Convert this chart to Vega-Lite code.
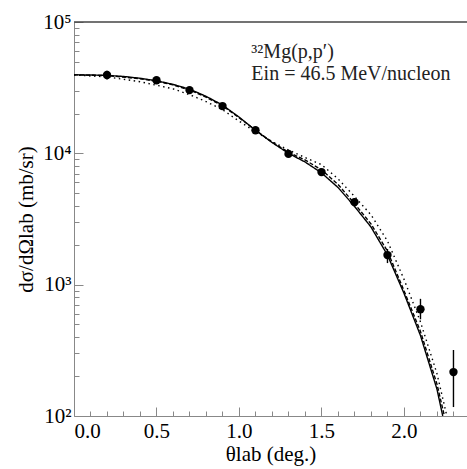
{
  "$schema": "https://vega.github.io/schema/vega-lite/v6.json",
  "width": 393,
  "height": 394,
  "autosize": {"type": "none"},
  "padding": {"left": 74, "top": 22, "right": 0, "bottom": 53},
  "background": "white",
  "view": {"stroke": null},
  "datasets": {
    "curves": [
      {"x": 0.0, "y": 39600, "model": "solid"},
      {"x": 0.1, "y": 39500, "model": "solid"},
      {"x": 0.2, "y": 39200, "model": "solid"},
      {"x": 0.3, "y": 38500, "model": "solid"},
      {"x": 0.4, "y": 37300, "model": "solid"},
      {"x": 0.5, "y": 35700, "model": "solid"},
      {"x": 0.6, "y": 33500, "model": "solid"},
      {"x": 0.7, "y": 30800, "model": "solid"},
      {"x": 0.8, "y": 27200, "model": "solid"},
      {"x": 0.9, "y": 23300, "model": "solid"},
      {"x": 1.0, "y": 18900, "model": "solid"},
      {"x": 1.1, "y": 15000, "model": "solid"},
      {"x": 1.2, "y": 12100, "model": "solid"},
      {"x": 1.3, "y": 10000, "model": "solid"},
      {"x": 1.4, "y": 8600, "model": "solid"},
      {"x": 1.5, "y": 7100, "model": "solid"},
      {"x": 1.6, "y": 5500, "model": "solid"},
      {"x": 1.7, "y": 3950, "model": "solid"},
      {"x": 1.8, "y": 2750, "model": "solid"},
      {"x": 1.9, "y": 1680, "model": "solid"},
      {"x": 2.0, "y": 860, "model": "solid"},
      {"x": 2.1, "y": 410, "model": "solid"},
      {"x": 2.2, "y": 160, "model": "solid"},
      {"x": 2.235, "y": 100, "model": "solid"},
      {"x": 0.0, "y": 39600, "model": "dashed"},
      {"x": 0.2, "y": 39100, "model": "dashed"},
      {"x": 0.4, "y": 37000, "model": "dashed"},
      {"x": 0.5, "y": 35400, "model": "dashed"},
      {"x": 0.6, "y": 33200, "model": "dashed"},
      {"x": 0.7, "y": 30400, "model": "dashed"},
      {"x": 0.8, "y": 26800, "model": "dashed"},
      {"x": 0.9, "y": 23000, "model": "dashed"},
      {"x": 1.0, "y": 18700, "model": "dashed"},
      {"x": 1.1, "y": 15000, "model": "dashed"},
      {"x": 1.2, "y": 12200, "model": "dashed"},
      {"x": 1.3, "y": 10200, "model": "dashed"},
      {"x": 1.4, "y": 8900, "model": "dashed"},
      {"x": 1.5, "y": 7500, "model": "dashed"},
      {"x": 1.6, "y": 5800, "model": "dashed"},
      {"x": 1.7, "y": 4150, "model": "dashed"},
      {"x": 1.8, "y": 2900, "model": "dashed"},
      {"x": 1.9, "y": 1800, "model": "dashed"},
      {"x": 2.0, "y": 900, "model": "dashed"},
      {"x": 2.1, "y": 440, "model": "dashed"},
      {"x": 2.2, "y": 175, "model": "dashed"},
      {"x": 2.245, "y": 100, "model": "dashed"},
      {"x": 0.0, "y": 39500, "model": "dotted"},
      {"x": 0.2, "y": 38200, "model": "dotted"},
      {"x": 0.4, "y": 35100, "model": "dotted"},
      {"x": 0.6, "y": 31000, "model": "dotted"},
      {"x": 0.7, "y": 28000, "model": "dotted"},
      {"x": 0.8, "y": 24800, "model": "dotted"},
      {"x": 0.9, "y": 21500, "model": "dotted"},
      {"x": 1.0, "y": 17600, "model": "dotted"},
      {"x": 1.1, "y": 14600, "model": "dotted"},
      {"x": 1.2, "y": 12300, "model": "dotted"},
      {"x": 1.3, "y": 10600, "model": "dotted"},
      {"x": 1.4, "y": 9300, "model": "dotted"},
      {"x": 1.5, "y": 8200, "model": "dotted"},
      {"x": 1.6, "y": 6400, "model": "dotted"},
      {"x": 1.7, "y": 4700, "model": "dotted"},
      {"x": 1.8, "y": 3400, "model": "dotted"},
      {"x": 1.9, "y": 2150, "model": "dotted"},
      {"x": 2.0, "y": 1100, "model": "dotted"},
      {"x": 2.1, "y": 520, "model": "dotted"},
      {"x": 2.2, "y": 210, "model": "dotted"},
      {"x": 2.26, "y": 100, "model": "dotted"}
    ],
    "points": [
      {"x": 0.2, "y": 39500, "lo": 36500, "hi": 42600},
      {"x": 0.5, "y": 36000, "lo": 34000, "hi": 38000},
      {"x": 0.7, "y": 30300, "lo": 28800, "hi": 31800},
      {"x": 0.9, "y": 22900, "lo": 21900, "hi": 24000},
      {"x": 1.1, "y": 15000, "lo": 14300, "hi": 15700},
      {"x": 1.3, "y": 9900, "lo": 9450, "hi": 10400},
      {"x": 1.5, "y": 7200, "lo": 6850, "hi": 7600},
      {"x": 1.7, "y": 4250, "lo": 3950, "hi": 4550},
      {"x": 1.9, "y": 1680, "lo": 1460, "hi": 1870},
      {"x": 2.1, "y": 650, "lo": 545, "hi": 780},
      {"x": 2.3, "y": 216, "lo": 117, "hi": 318}
    ],
    "labels": [
      {"x": 1.075, "y": 53200, "text": "³²Mg(p,p′)"},
      {"x": 1.075, "y": 36100, "text": "Ein = 46.5 MeV/nucleon"}
    ],
    "frame": [
      {"x": 0, "y": 100000},
      {"x": 2.382, "y": 100000}
    ]
  },
  "encoding": {
    "x": {
      "field": "x", "type": "quantitative",
      "scale": {"domain": [0, 2.382], "nice": false, "zero": false},
      "axis": {
        "title": "θlab (deg.)",
        "values": [0, 0.1, 0.2, 0.3, 0.4, 0.5, 0.6, 0.7, 0.8, 0.9, 1.0, 1.1, 1.2, 1.3, 1.4, 1.5, 1.6, 1.7, 1.8, 1.9, 2.0, 2.1, 2.2, 2.3],
        "labelExpr": "abs(datum.value*2 - round(datum.value*2)) < 0.001 ? format(datum.value, '.1f') : ''",
        "tickSize": {"condition": {"test": "abs(datum.value*2 - round(datum.value*2)) < 0.001", "value": -9}, "value": -5},
        "labelPadding": 13,
        "titlePadding": 2,
        "gridOpacity": 0,
        "labelFont": "Liberation Serif",
        "labelFontSize": 21,
        "titleFont": "Liberation Serif",
        "titleFontSize": 21,
        "titleFontWeight": "normal"
      }
    },
    "y": {
      "field": "y", "type": "quantitative",
      "scale": {"type": "log", "domain": [100, 100000]},
      "axis": {
        "title": "dσ/dΩlab (mb/sr)",
        "values": [100, 200, 300, 400, 500, 600, 700, 800, 900, 1000, 2000, 3000, 4000, 5000, 6000, 7000, 8000, 9000, 10000, 20000, 30000, 40000, 50000, 60000, 70000, 80000, 90000, 100000],
        "labelExpr": "datum.value == 100 ? '10²' : datum.value == 1000 ? '10³' : datum.value == 10000 ? '10⁴' : datum.value == 100000 ? '10⁵' : ''",
        "tickSize": {"condition": {"test": "datum.value == 100 || datum.value == 1000 || datum.value == 10000 || datum.value == 100000", "value": -9}, "value": -5},
        "labelPadding": 12,
        "titlePadding": 6,
        "gridOpacity": 0,
        "labelFont": "Liberation Serif",
        "labelFontSize": 21,
        "titleFont": "Liberation Serif",
        "titleFontSize": 21,
        "titleFontWeight": "normal"
      }
    }
  },
  "layer": [
    {
      "data": {"name": "frame"},
      "mark": {"type": "line", "color": "#444", "strokeWidth": 1.6},
      "encoding": {}
    },
    {
      "data": {"name": "curves"},
      "mark": {"type": "line", "color": "black", "strokeWidth": 1.4, "clip": true},
      "encoding": {
        "strokeDash": {
          "field": "model", "type": "nominal",
          "scale": {"domain": ["solid", "dashed", "dotted"], "range": [[1, 0], [4, 2], [1.5, 3.5]]},
          "legend": null
        },
        "detail": {"field": "model"}
      }
    },
    {
      "data": {"name": "points"},
      "mark": {"type": "rule", "color": "black", "strokeWidth": 1.4},
      "encoding": {
        "y": {"field": "lo", "type": "quantitative"},
        "y2": {"field": "hi"}
      }
    },
    {
      "data": {"name": "points"},
      "mark": {"type": "circle", "color": "black", "size": 70, "opacity": 1},
      "encoding": {}
    },
    {
      "data": {"name": "labels"},
      "mark": {"type": "text", "align": "left", "baseline": "alphabetic", "fontSize": 20, "font": "Liberation Serif", "color": "#222"},
      "encoding": {
        "text": {"field": "text"}
      }
    }
  ]
}
